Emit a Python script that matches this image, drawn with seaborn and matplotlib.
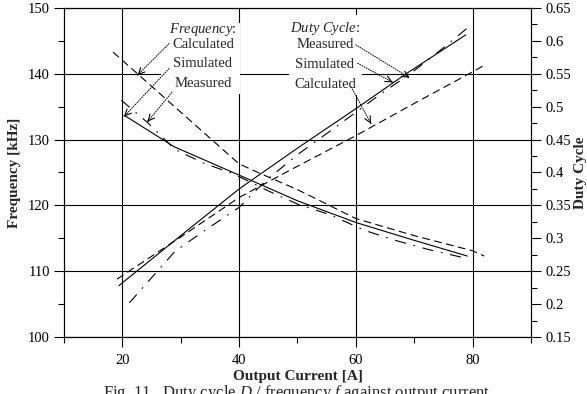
import matplotlib
matplotlib.use("Agg")
import matplotlib.pyplot as plt
import numpy as np
import pandas as pd
import seaborn as sns
from matplotlib.patches import Rectangle
from matplotlib.ticker import MultipleLocator, FuncFormatter

# ---- data: output current [A] vs. switching frequency [kHz] ----
freq_calc_I = [18.4, 40, 44, 50, 60, 70, 80, 82]
freq_calc_f = [143.3, 126.3, 124.7, 122.4, 118.0, 115.4, 113.1, 112.3]
freq_sim_I = [20.3, 28.9, 40, 50, 60, 69.2, 79.1]
freq_sim_f = [133.7, 128.9, 124.6, 120.7, 117.4, 114.9, 112.3]
freq_meas_I = [19.8, 24.3, 29, 34, 39, 45, 50, 55.5, 61.5, 66.7, 72.4, 79.2]
freq_meas_f = [136.0, 132.6, 128.5, 126.4, 124.8, 122.2, 120.2, 118.6, 116.2, 114.7, 113.3, 111.9]

# ---- data: output current [A] vs. duty cycle ----
duty_calc_I = [19.1, 30, 40, 48.6, 60, 70, 80, 82]
duty_calc_d = [0.238, 0.302, 0.362, 0.403, 0.456, 0.505, 0.553, 0.563]
duty_sim_I = [19.4, 30, 40, 50, 60, 68.6, 78.8]
duty_sim_d = [0.228, 0.304, 0.375, 0.437, 0.497, 0.550, 0.609]
duty_meas_I = [21.2, 25, 29, 33.8, 40, 44.6, 50.3, 57, 64.2, 69.3, 74.5, 79.3]
duty_meas_d = [0.202, 0.240, 0.280, 0.310, 0.347, 0.388, 0.429, 0.472, 0.519, 0.550, 0.586, 0.621]

sources = ["Calculated", "Simulated", "Measured"]


def long_table(pairs, value_name):
    frames = []
    for src, (xs, ys) in zip(sources, pairs):
        frames.append(pd.DataFrame({"current": xs, value_name: ys, "source": src}))
    return pd.concat(frames, ignore_index=True)


freq_df = long_table([(freq_calc_I, freq_calc_f), (freq_sim_I, freq_sim_f),
                      (freq_meas_I, freq_meas_f)], "freq")
duty_df = long_table([(duty_calc_I, duty_calc_d), (duty_sim_I, duty_sim_d),
                      (duty_meas_I, duty_meas_d)], "duty")

sns.set_style("ticks")
plt.rcParams["font.family"] = ["Liberation Serif", "DejaVu Serif"]
plt.rcParams["mathtext.fontset"] = "custom"
plt.rcParams["mathtext.rm"] = "Liberation Serif"
plt.rcParams["mathtext.it"] = "Liberation Serif:italic"
plt.rcParams["mathtext.bf"] = "Liberation Serif:bold"
plt.rcParams["axes.edgecolor"] = "black"
plt.rcParams["axes.linewidth"] = 0.8
plt.rcParams["xtick.color"] = "black"
plt.rcParams["ytick.color"] = "black"

dash_map = {"Calculated": (7, 4), "Simulated": "", "Measured": (10, 7, 1.5, 7)}
LW = 0.8

fig = plt.figure(figsize=(5.87, 3.94), dpi=100)
ax = fig.add_axes([0.1090, 0.1447, 0.7956, 0.8350])
ax2 = ax.twinx()

sns.lineplot(data=freq_df, x="current", y="freq", style="source", dashes=dash_map,
             style_order=sources, color="black", lw=LW, ax=ax, legend=False,
             estimator=None)
sns.lineplot(data=duty_df, x="current", y="duty", style="source", dashes=dash_map,
             style_order=sources, color="black", lw=LW, ax=ax2, legend=False,
             estimator=None)

ax.set_xlim(10, 90)
ax.set_ylim(100, 150)
ax2.set_ylim(0.15, 0.65)

ax.xaxis.set_major_locator(MultipleLocator(20))
ax.xaxis.set_minor_locator(MultipleLocator(10))
ax.yaxis.set_major_locator(MultipleLocator(10))
ax.yaxis.set_minor_locator(MultipleLocator(5))
ax2.yaxis.set_major_locator(MultipleLocator(0.05))
ax2.yaxis.set_minor_locator(MultipleLocator(0.025))
ax2.yaxis.set_major_formatter(FuncFormatter(lambda v, _: f"{v:g}"))

for a in (ax, ax2):
    a.tick_params(which="major", direction="out", length=7.2, width=0.8,
                  labelsize=10.5, pad=3)
    a.tick_params(which="minor", direction="out", length=4, width=0.8)
ax.tick_params(axis="x", which="major", pad=5)

ax.grid(True, which="major", color="black", lw=0.8)
ax.set_axisbelow(True)
ax2.grid(False)

ax.set_xlabel("Output Current [A]", fontsize=11, fontweight="bold", labelpad=2)
ax.set_ylabel("Frequency [kHz]", fontsize=11, fontweight="bold", labelpad=5)
ax2.set_ylabel("Duty Cycle", fontsize=11, fontweight="bold", labelpad=2)

# white panels behind the two annotation blocks
ax.add_patch(Rectangle((26.6, 136.9), 13.5, 10.8, facecolor="white",
                       edgecolor="none", zorder=1.5))
ax.add_patch(Rectangle((48.5, 136.8), 12.5, 12.1, facecolor="white",
                       edgecolor="none", zorder=1.5))

TXT = dict(ha="center", va="center", fontsize=10.5, zorder=5)
ax.text(33.8, 146.8, r"$\mathit{Frequency}$:", **TXT)
ax.text(33.8, 144.4, "Calculated", **TXT)
ax.text(33.8, 141.5, "Simulated", **TXT)
ax.text(33.8, 138.5, "Measured", **TXT)

ax.text(54.7, 146.9, r"$\mathit{Duty\ Cycle}$:", **TXT)
ax.text(54.7, 144.4, "Measured", **TXT)
ax.text(54.7, 141.4, "Simulated", **TXT)
ax.text(54.7, 138.4, "Calculated", **TXT)


def pointer(start, tip):
    ax.annotate("", xy=tip, xytext=start, zorder=4,
                arrowprops=dict(arrowstyle="-", linestyle=(0, (1, 1.5)), lw=0.7,
                                color="black", shrinkA=0, shrinkB=0))
    back = (tip[0] - 0.03 * (tip[0] - start[0]), tip[1] - 0.03 * (tip[1] - start[1]))
    ax.annotate("", xy=tip, xytext=back, zorder=4,
                arrowprops=dict(arrowstyle="->,head_length=0.45,head_width=0.22",
                                lw=0.8, color="black", shrinkA=0, shrinkB=0))


pointer((28.0, 144.6), (22.6, 139.8))
pointer((28.0, 140.8), (20.3, 133.5))
pointer((28.5, 137.2), (24.3, 132.7))
pointer((60.0, 144.4), (69.2, 139.4))
pointer((60.3, 141.6), (66.3, 138.7))
pointer((59.2, 138.0), (62.6, 132.4))

# figure caption, partly below the lower edge of the canvas
fig.text(103 / 587, -0.008,
         "Fig. 11.  Duty cycle $D$ / frequency $f$ against output current",
         fontsize=12, ha="left", va="baseline")

fig.savefig("out.png", dpi=100)
